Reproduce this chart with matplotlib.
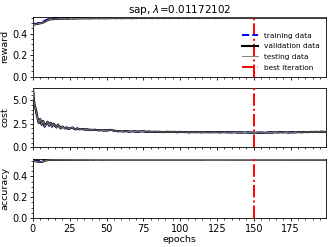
import matplotlib
matplotlib.use('Agg')
import matplotlib.pyplot as plt

# epochs 0..199
epochs = list(range(200))
best_epoch = 150

reward_val = [
    0.485, 0.490, 0.488, 0.492, 0.495, 0.497, 0.500, 0.505, 0.512, 0.520,
    0.527, 0.532, 0.535, 0.537, 0.536, 0.538, 0.540, 0.539, 0.540, 0.541,
    0.540, 0.541, 0.542, 0.541, 0.540, 0.542, 0.543, 0.542, 0.541, 0.543,
    0.543, 0.542, 0.544, 0.543, 0.542, 0.544, 0.545, 0.544, 0.543, 0.544,
    0.545, 0.544, 0.545, 0.546, 0.545, 0.544, 0.545, 0.546, 0.545, 0.544,
    0.545, 0.546, 0.545, 0.546, 0.547, 0.546, 0.545, 0.546, 0.547, 0.546,
    0.546, 0.545, 0.546, 0.547, 0.546, 0.547, 0.546, 0.545, 0.546, 0.547,
    0.546, 0.547, 0.548, 0.547, 0.546, 0.547, 0.546, 0.547, 0.548, 0.547,
    0.547, 0.546, 0.547, 0.548, 0.547, 0.546, 0.547, 0.548, 0.547, 0.546,
    0.547, 0.548, 0.547, 0.546, 0.547, 0.548, 0.547, 0.548, 0.547, 0.546,
    0.547, 0.548, 0.547, 0.548, 0.547, 0.546, 0.547, 0.548, 0.547, 0.548,
    0.547, 0.548, 0.547, 0.546, 0.547, 0.548, 0.547, 0.548, 0.548, 0.547,
    0.548, 0.547, 0.548, 0.547, 0.546, 0.547, 0.548, 0.547, 0.548, 0.547,
    0.548, 0.547, 0.548, 0.548, 0.547, 0.548, 0.547, 0.548, 0.547, 0.548,
    0.547, 0.548, 0.547, 0.548, 0.548, 0.547, 0.548, 0.547, 0.548, 0.548,
    0.548, 0.547, 0.548, 0.547, 0.548, 0.548, 0.547, 0.548, 0.547, 0.548,
    0.548, 0.547, 0.548, 0.547, 0.548, 0.547, 0.548, 0.548, 0.547, 0.548,
    0.547, 0.548, 0.547, 0.548, 0.548, 0.547, 0.548, 0.547, 0.548, 0.547,
    0.548, 0.547, 0.548, 0.548, 0.547, 0.548, 0.547, 0.548, 0.548, 0.547,
    0.548, 0.547, 0.548, 0.547, 0.548, 0.548, 0.547, 0.548, 0.547, 0.548,
]
reward_train = [
    0.490, 0.494, 0.493, 0.497, 0.500, 0.503, 0.507, 0.513, 0.520, 0.528,
    0.534, 0.539, 0.542, 0.545, 0.546, 0.547, 0.549, 0.549, 0.550, 0.551,
    0.551, 0.552, 0.551, 0.552, 0.552, 0.553, 0.552, 0.553, 0.552, 0.553,
    0.553, 0.552, 0.553, 0.554, 0.553, 0.553, 0.554, 0.553, 0.554, 0.553,
    0.554, 0.553, 0.554, 0.554, 0.553, 0.554, 0.555, 0.554, 0.553, 0.554,
    0.554, 0.555, 0.554, 0.554, 0.555, 0.554, 0.555, 0.554, 0.554, 0.555,
    0.554, 0.555, 0.554, 0.555, 0.555, 0.554, 0.555, 0.554, 0.555, 0.555,
    0.555, 0.554, 0.555, 0.555, 0.554, 0.555, 0.555, 0.554, 0.555, 0.555,
    0.555, 0.554, 0.555, 0.555, 0.556, 0.555, 0.555, 0.554, 0.555, 0.555,
    0.555, 0.556, 0.555, 0.555, 0.554, 0.555, 0.555, 0.556, 0.555, 0.555,
    0.555, 0.555, 0.556, 0.555, 0.555, 0.554, 0.555, 0.556, 0.555, 0.555,
    0.556, 0.555, 0.555, 0.556, 0.555, 0.555, 0.556, 0.555, 0.555, 0.556,
    0.555, 0.555, 0.556, 0.555, 0.556, 0.555, 0.555, 0.556, 0.555, 0.555,
    0.556, 0.555, 0.556, 0.555, 0.555, 0.556, 0.555, 0.556, 0.555, 0.556,
    0.555, 0.556, 0.555, 0.556, 0.555, 0.556, 0.556, 0.555, 0.556, 0.555,
    0.556, 0.555, 0.556, 0.556, 0.555, 0.556, 0.555, 0.556, 0.556, 0.555,
    0.556, 0.556, 0.555, 0.556, 0.555, 0.556, 0.556, 0.555, 0.556, 0.556,
    0.555, 0.556, 0.556, 0.555, 0.556, 0.556, 0.555, 0.556, 0.556, 0.555,
    0.556, 0.556, 0.555, 0.556, 0.556, 0.555, 0.556, 0.556, 0.555, 0.556,
    0.556, 0.555, 0.556, 0.556, 0.555, 0.556, 0.556, 0.555, 0.556, 0.556,
]
reward_test = reward_val

cost_val = [
    6.30, 4.60, 4.00, 3.20, 2.60, 3.00, 2.40, 2.80, 2.20, 2.50,
    2.70, 2.30, 2.60, 2.20, 2.50, 2.30, 2.10, 2.40, 2.20, 2.00,
    2.20, 2.10, 2.00, 2.10, 1.95, 2.00, 2.05, 2.10, 1.95, 1.90,
    2.00, 1.95, 1.90, 1.95, 1.92, 1.90, 1.88, 1.90, 1.85, 1.87,
    1.85, 1.83, 1.86, 1.84, 1.82, 1.80, 1.82, 1.80, 1.78, 1.80,
    1.78, 1.80, 1.82, 1.85, 1.80, 1.76, 1.74, 1.72, 1.70, 1.72,
    1.70, 1.68, 1.70, 1.72, 1.70, 1.68, 1.66, 1.68, 1.70, 1.68,
    1.66, 1.65, 1.67, 1.68, 1.70, 1.68, 1.66, 1.65, 1.64, 1.66,
    1.64, 1.63, 1.65, 1.64, 1.62, 1.63, 1.64, 1.62, 1.61, 1.63,
    1.62, 1.64, 1.63, 1.61, 1.62, 1.63, 1.64, 1.62, 1.60, 1.62,
    1.63, 1.62, 1.60, 1.61, 1.62, 1.60, 1.59, 1.61, 1.62, 1.60,
    1.61, 1.60, 1.62, 1.61, 1.60, 1.59, 1.60, 1.62, 1.61, 1.60,
    1.60, 1.61, 1.60, 1.59, 1.60, 1.61, 1.60, 1.59, 1.60, 1.61,
    1.60, 1.58, 1.59, 1.60, 1.59, 1.58, 1.59, 1.60, 1.58, 1.57,
    1.58, 1.57, 1.58, 1.57, 1.56, 1.57, 1.58, 1.56, 1.55, 1.56,
    1.55, 1.56, 1.55, 1.54, 1.55, 1.56, 1.55, 1.54, 1.55, 1.56,
    1.57, 1.58, 1.57, 1.58, 1.60, 1.59, 1.58, 1.60, 1.61, 1.60,
    1.59, 1.60, 1.58, 1.57, 1.58, 1.59, 1.60, 1.59, 1.58, 1.60,
    1.61, 1.62, 1.60, 1.61, 1.63, 1.62, 1.61, 1.62, 1.64, 1.63,
    1.62, 1.63, 1.64, 1.63, 1.62, 1.64, 1.65, 1.64, 1.63, 1.62,
]
cost_train = cost_val
cost_test = cost_val

acc_val = [
    0.552, 0.546, 0.543, 0.540, 0.538, 0.537, 0.538, 0.542, 0.548, 0.553,
    0.555, 0.556, 0.557, 0.556, 0.557, 0.558, 0.557, 0.558, 0.557, 0.558,
    0.558, 0.557, 0.558, 0.559, 0.558, 0.557, 0.558, 0.559, 0.558, 0.559,
    0.558, 0.559, 0.558, 0.559, 0.559, 0.558, 0.559, 0.558, 0.559, 0.560,
    0.559, 0.558, 0.559, 0.560, 0.559, 0.559, 0.560, 0.559, 0.558, 0.559,
    0.560, 0.559, 0.560, 0.559, 0.560, 0.559, 0.559, 0.560, 0.559, 0.560,
    0.559, 0.560, 0.559, 0.560, 0.560, 0.559, 0.560, 0.559, 0.560, 0.559,
    0.560, 0.559, 0.560, 0.560, 0.559, 0.560, 0.559, 0.560, 0.560, 0.559,
    0.560, 0.559, 0.560, 0.560, 0.559, 0.560, 0.560, 0.559, 0.560, 0.560,
    0.559, 0.560, 0.560, 0.559, 0.560, 0.560, 0.559, 0.560, 0.560, 0.559,
    0.560, 0.560, 0.559, 0.560, 0.560, 0.559, 0.560, 0.560, 0.559, 0.560,
    0.560, 0.559, 0.560, 0.560, 0.559, 0.560, 0.560, 0.560, 0.559, 0.560,
    0.560, 0.559, 0.560, 0.560, 0.560, 0.559, 0.560, 0.560, 0.559, 0.560,
    0.560, 0.560, 0.559, 0.560, 0.560, 0.559, 0.560, 0.560, 0.560, 0.559,
    0.560, 0.560, 0.559, 0.560, 0.560, 0.560, 0.559, 0.560, 0.560, 0.559,
    0.560, 0.560, 0.560, 0.559, 0.560, 0.560, 0.559, 0.560, 0.560, 0.560,
    0.559, 0.560, 0.560, 0.559, 0.560, 0.560, 0.560, 0.559, 0.560, 0.560,
    0.560, 0.559, 0.560, 0.560, 0.559, 0.560, 0.560, 0.560, 0.559, 0.560,
    0.560, 0.559, 0.560, 0.560, 0.560, 0.559, 0.560, 0.560, 0.559, 0.560,
    0.560, 0.560, 0.559, 0.560, 0.560, 0.559, 0.560, 0.560, 0.560, 0.559,
]
acc_train = [
    0.556, 0.552, 0.549, 0.547, 0.546, 0.546, 0.547, 0.550, 0.555, 0.559,
    0.561, 0.562, 0.563, 0.563, 0.564, 0.564, 0.564, 0.565, 0.564, 0.565,
    0.565, 0.565, 0.566, 0.565, 0.566, 0.565, 0.566, 0.566, 0.565, 0.566,
    0.566, 0.566, 0.567, 0.566, 0.566, 0.567, 0.566, 0.567, 0.566, 0.567,
    0.567, 0.566, 0.567, 0.567, 0.566, 0.567, 0.567, 0.568, 0.567, 0.567,
    0.567, 0.568, 0.567, 0.567, 0.568, 0.567, 0.568, 0.567, 0.568, 0.567,
    0.568, 0.567, 0.568, 0.568, 0.567, 0.568, 0.568, 0.567, 0.568, 0.568,
    0.567, 0.568, 0.568, 0.568, 0.567, 0.568, 0.568, 0.567, 0.568, 0.568,
    0.568, 0.567, 0.568, 0.568, 0.568, 0.567, 0.568, 0.568, 0.568, 0.567,
    0.568, 0.568, 0.568, 0.567, 0.568, 0.568, 0.568, 0.568, 0.567, 0.568,
    0.568, 0.568, 0.567, 0.568, 0.568, 0.568, 0.568, 0.567, 0.568, 0.568,
    0.568, 0.568, 0.567, 0.568, 0.568, 0.568, 0.568, 0.569, 0.568, 0.568,
    0.568, 0.567, 0.568, 0.568, 0.568, 0.569, 0.568, 0.568, 0.568, 0.567,
    0.568, 0.568, 0.569, 0.568, 0.568, 0.568, 0.567, 0.568, 0.568, 0.569,
    0.568, 0.568, 0.568, 0.567, 0.568, 0.568, 0.569, 0.568, 0.568, 0.568,
    0.568, 0.569, 0.568, 0.568, 0.567, 0.568, 0.568, 0.569, 0.568, 0.568,
    0.568, 0.568, 0.569, 0.568, 0.568, 0.567, 0.568, 0.568, 0.569, 0.568,
    0.568, 0.568, 0.568, 0.569, 0.568, 0.568, 0.568, 0.567, 0.568, 0.568,
    0.569, 0.568, 0.568, 0.568, 0.568, 0.569, 0.568, 0.568, 0.568, 0.567,
    0.568, 0.568, 0.569, 0.568, 0.568, 0.568, 0.568, 0.569, 0.568, 0.568,
]
acc_test = acc_val

panels = [
    ('reward', reward_train, reward_val, reward_test),
    ('cost', cost_train, cost_val, cost_test),
    ('accuracy', acc_train, acc_val, acc_test),
]

fig, axes = plt.subplots(3, 1, sharex=True, figsize=(3.32, 2.47), dpi=100)
fig.subplots_adjust(left=0.099, right=0.982, top=0.931, bottom=0.117, hspace=0.19)

for ax, (name, tr, va, te) in zip(axes, panels):
    ax.plot(epochs, tr, color='blue', ls='--', lw=1.4, label='training data', zorder=2)
    ax.plot(epochs, va, color='black', lw=1.5, label='validation data', zorder=3)
    ax.plot(epochs, te, color='gray', lw=0.7, label='testing data', zorder=4)
    ax.axvline(best_epoch, color='red', ls='-.', lw=1.4, label='best iteration', zorder=5)
    ax.set_ylim(0, max(max(tr), max(va), max(te)))
    ax.set_xlim(0, 199)
    ax.set_ylabel(name, fontsize=6.8, labelpad=2)
    ax.minorticks_on()
    ax.tick_params(labelsize=7, pad=1.5, length=2.5, width=0.6)
    ax.tick_params(which='minor', length=1.3, width=0.5)
    for s in ax.spines.values():
        s.set_linewidth(0.6)

axes[0].set_yticks([0.0, 0.2, 0.4])
axes[1].set_yticks([0.0, 2.5, 5.0])
axes[2].set_yticks([0.0, 0.2, 0.4])
axes[2].set_xticks([0, 25, 50, 75, 100, 125, 150, 175])

axes[0].legend(loc='lower right', frameon=False, fontsize=5.3, handlelength=2.2,
               labelspacing=0.6, borderaxespad=0.4, handletextpad=0.8,
               bbox_to_anchor=(1.0, 0.0))

axes[0].set_title('sap, $\\lambda$=0.01172102', fontsize=7.5, pad=2)
axes[2].set_xlabel('epochs', fontsize=6.8, labelpad=1)

fig.savefig('out.png', dpi=100)
